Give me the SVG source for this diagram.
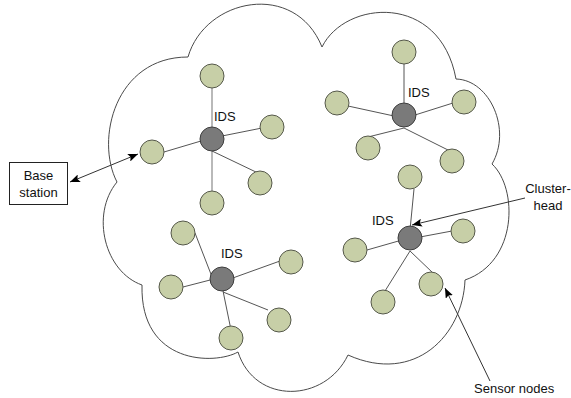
<svg xmlns="http://www.w3.org/2000/svg" width="571" height="398" viewBox="0 0 571 398">
<style>
.leaf{fill:#c7cfa7;stroke:#55584a;stroke-width:1}
.head{fill:#7a7a7a;stroke:#3e3e3e;stroke-width:1}
.ln{stroke:#555;stroke-width:1;fill:none}
.lv{stroke:#a8a8a8;stroke-width:1.6;fill:none}
.arr{stroke:#333;stroke-width:1;fill:none}
.cloud{fill:none;stroke:#4a4a4a;stroke-width:1}
text{font-family:"Liberation Sans",Arial,sans-serif;font-size:13px;fill:#111}
</style>
<defs>
<marker id="ah" viewBox="0 0 10 8" refX="10" refY="4" markerWidth="10" markerHeight="8" markerUnits="userSpaceOnUse" orient="auto-start-reverse">
<path d="M0,0 L10,4 L0,8 L2,4 z" fill="#000"/>
</marker>
</defs>
<rect width="571" height="398" fill="#fff"/>
<path id="cloud" class="cloud" d="M117,182 C95,140 115,57 188,57 C205,-2 295,-20 322,47 C345,0 440,-8 456,79 C490,80 512,130 492,164 C518,188 518,262 465,280 C463,335 415,385 348,355 C325,403 255,405 238,352 C215,365 140,365 142,285 C105,272 90,215 117,182 Z"/>
<g id="connectors">
<line class="lv" x1="212" y1="88" x2="212" y2="191"/>
<line class="ln" x1="164" y1="152" x2="201" y2="141"/>
<line class="ln" x1="222" y1="136" x2="262" y2="128"/>
<line class="ln" x1="212" y1="151" x2="258" y2="173"/>
<line class="ln" x1="404" y1="64" x2="404" y2="104"/>
<line class="ln" x1="348" y1="106" x2="394" y2="116"/>
<line class="ln" x1="415" y1="115" x2="453" y2="103"/>
<line class="ln" x1="368" y1="137" x2="404" y2="128"/>
<line class="ln" x1="404" y1="128" x2="450" y2="151"/>
<line class="ln" x1="195" y1="233" x2="214" y2="282"/>
<line class="ln" x1="222" y1="286" x2="231" y2="330"/>
<line class="ln" x1="183" y1="287" x2="214" y2="279"/>
<line class="ln" x1="230" y1="279" x2="280" y2="261"/>
<line class="ln" x1="223" y1="292" x2="268" y2="310"/>
<line class="ln" x1="414" y1="189" x2="410" y2="230"/>
<line class="ln" x1="367" y1="250" x2="402" y2="240"/>
<line class="ln" x1="420" y1="237" x2="452" y2="231"/>
<line class="ln" x1="385" y1="291" x2="410" y2="251"/>
<line class="ln" x1="410" y1="251" x2="433" y2="273"/>
<line class="arr" x1="70" y1="182" x2="138" y2="154" marker-start="url(#ah)" marker-end="url(#ah)"/>
<line class="arr" x1="525" y1="198" x2="412" y2="225" marker-end="url(#ah)"/>
<line class="arr" x1="490" y1="381" x2="445" y2="288" marker-end="url(#ah)"/>
</g>
<g id="cluster1">
<circle class="leaf" cx="212" cy="76" r="12"/>
<circle class="leaf" cx="272" cy="127" r="12"/>
<circle class="leaf" cx="152" cy="152" r="12"/>
<circle class="leaf" cx="260" cy="183" r="12"/>
<circle class="leaf" cx="212" cy="203" r="12"/>
<circle class="head" cx="212" cy="139" r="12"/>
<text x="214" y="121">IDS</text>
</g>
<g id="cluster2">
<circle class="leaf" cx="404" cy="52" r="12"/>
<circle class="leaf" cx="337" cy="103" r="12"/>
<circle class="leaf" cx="464" cy="102" r="12"/>
<circle class="leaf" cx="368" cy="148" r="12"/>
<circle class="leaf" cx="452" cy="161" r="12"/>
<circle class="head" cx="404" cy="115" r="12"/>
<text x="408" y="97">IDS</text>
</g>
<g id="cluster3">
<circle class="leaf" cx="183" cy="233" r="12"/>
<circle class="leaf" cx="171" cy="287" r="12"/>
<circle class="leaf" cx="291" cy="262" r="12"/>
<circle class="leaf" cx="279" cy="320" r="12"/>
<circle class="leaf" cx="231" cy="338" r="12"/>
<circle class="head" cx="222" cy="279" r="12"/>
<text x="221" y="258">IDS</text>
</g>
<g id="cluster4">
<circle class="leaf" cx="410" cy="177" r="12"/>
<circle class="leaf" cx="355" cy="250" r="12"/>
<circle class="leaf" cx="463" cy="231" r="12"/>
<circle class="leaf" cx="383" cy="302" r="12"/>
<circle class="leaf" cx="431" cy="284" r="12"/>
<circle class="head" cx="410" cy="238" r="12"/>
<text x="372" y="225">IDS</text>
</g>
<g id="base-station">
<rect x="9.5" y="162.5" width="58" height="42" fill="#fff" stroke="#222" stroke-width="1"/>
<text x="38.5" y="180" text-anchor="middle">Base</text>
<text x="38.5" y="197" text-anchor="middle">station</text>
</g>
<g id="label-clusterhead">
<text x="548" y="193" text-anchor="middle">Cluster-</text>
<text x="548" y="210" text-anchor="middle">head</text>
</g>
<g id="label-sensor">
<text x="474" y="393">Sensor nodes</text>
</g>
</svg>
